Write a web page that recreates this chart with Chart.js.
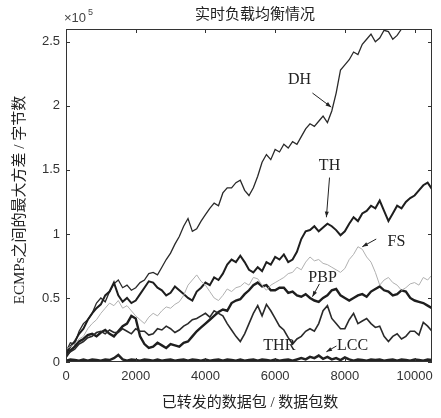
<!DOCTYPE html>
<html lang="zh-CN">
<head>
<meta charset="UTF-8">
<title>实时负载均衡情况</title>
<script src="https://cdn.jsdelivr.net/npm/chart.js"></script>
<style>
  html, body { margin: 0; padding: 0; background: #fff; }
  #wrap { width: 441px; height: 418px; }
</style>
</head>
<body>
<div id="wrap"><canvas id="grafico" width="441" height="418"></canvas></div>
<script>
// eixo x: pacotes encaminhados (passo de 125)
const xs = [0,125,250,375,500,625,750,875,1000,1125,1250,1375,1500,1625,1750,1875,2000,2125,2250,2375,2500,2625,2750,2875,3000,3125,3250,3375,3500,3625,3750,3875,4000,4125,4250,4375,4500,4625,4750,4875,5000,5125,5250,5375,5500,5625,5750,5875,6000,6125,6250,6375,6500,6625,6750,6875,7000,7125,7250,7375,7500,7625,7750,7875,8000,8125,8250,8375,8500,8625,8750,8875,9000,9125,9250,9375,9500,9625,9750,9875,10000,10125,10250,10375,10500];

// valores em unidades de 1e5 bytes
const dh  = [0.08,0.15,0.14,0.24,0.30,0.33,0.38,0.46,0.50,0.47,0.55,0.61,0.64,0.58,0.60,0.56,0.58,0.62,0.64,0.69,0.70,0.68,0.74,0.80,0.85,0.92,0.98,1.06,1.12,1.02,1.04,1.10,1.15,1.20,1.24,1.22,1.32,1.36,1.36,1.40,1.42,1.34,1.30,1.36,1.45,1.56,1.62,1.58,1.66,1.64,1.70,1.67,1.72,1.70,1.76,1.82,1.86,1.84,1.88,1.92,1.87,1.96,2.10,2.28,2.32,2.36,2.42,2.40,2.48,2.52,2.56,2.50,2.53,2.59,2.58,2.52,2.55,2.60,2.62,2.63,2.65,2.64,2.66,2.68,2.68];
const th  = [0.06,0.12,0.16,0.22,0.26,0.33,0.38,0.42,0.45,0.52,0.55,0.62,0.52,0.47,0.50,0.46,0.48,0.53,0.58,0.63,0.62,0.58,0.56,0.52,0.54,0.59,0.56,0.53,0.50,0.48,0.55,0.58,0.62,0.60,0.66,0.64,0.69,0.76,0.80,0.78,0.83,0.78,0.72,0.70,0.74,0.71,0.78,0.76,0.82,0.80,0.84,0.78,0.80,0.86,0.96,1.02,1.03,1.06,1.02,1.05,1.08,1.06,1.03,0.99,1.02,1.08,1.13,1.10,1.16,1.18,1.22,1.20,1.26,1.18,1.10,1.16,1.22,1.20,1.25,1.28,1.30,1.34,1.38,1.40,1.35];
const fs  = [0.10,0.12,0.14,0.18,0.20,0.26,0.30,0.33,0.38,0.42,0.46,0.44,0.48,0.42,0.44,0.40,0.36,0.33,0.30,0.35,0.38,0.36,0.40,0.43,0.42,0.45,0.47,0.52,0.60,0.64,0.68,0.63,0.60,0.55,0.50,0.48,0.52,0.57,0.55,0.58,0.59,0.62,0.60,0.66,0.65,0.60,0.56,0.60,0.62,0.64,0.66,0.69,0.70,0.74,0.72,0.78,0.82,0.79,0.80,0.77,0.76,0.74,0.72,0.70,0.73,0.80,0.84,0.90,0.88,0.82,0.78,0.70,0.60,0.64,0.66,0.62,0.60,0.56,0.58,0.61,0.62,0.60,0.66,0.64,0.68];
const pbp = [0.04,0.09,0.12,0.16,0.18,0.21,0.22,0.20,0.23,0.25,0.22,0.20,0.24,0.28,0.30,0.36,0.34,0.20,0.14,0.11,0.12,0.15,0.13,0.11,0.14,0.13,0.12,0.15,0.16,0.20,0.24,0.27,0.30,0.33,0.36,0.39,0.41,0.40,0.46,0.48,0.49,0.53,0.56,0.60,0.62,0.59,0.60,0.56,0.56,0.58,0.58,0.54,0.55,0.52,0.51,0.53,0.50,0.48,0.47,0.50,0.52,0.56,0.57,0.52,0.50,0.48,0.50,0.52,0.53,0.51,0.55,0.57,0.59,0.56,0.55,0.52,0.53,0.56,0.55,0.50,0.48,0.47,0.46,0.44,0.42];
const thr = [0.05,0.08,0.10,0.14,0.16,0.19,0.20,0.23,0.24,0.22,0.25,0.23,0.23,0.26,0.24,0.22,0.26,0.24,0.24,0.21,0.22,0.26,0.25,0.28,0.26,0.23,0.25,0.28,0.30,0.33,0.34,0.36,0.38,0.35,0.40,0.38,0.36,0.30,0.25,0.20,0.16,0.22,0.30,0.38,0.44,0.36,0.45,0.40,0.34,0.28,0.25,0.19,0.14,0.18,0.20,0.24,0.26,0.24,0.30,0.40,0.44,0.34,0.30,0.26,0.26,0.33,0.38,0.30,0.32,0.34,0.30,0.27,0.28,0.20,0.16,0.20,0.22,0.18,0.20,0.24,0.24,0.21,0.31,0.28,0.24];
const lcc = [0.01,0.02,0.015,0.01,0.02,0.01,0.02,0.015,0.01,0.02,0.015,0.03,0.055,0.02,0.01,0.02,0.015,0.01,0.02,0.015,0.01,0.02,0.01,0.015,0.02,0.01,0.015,0.02,0.01,0.02,0.015,0.01,0.02,0.01,0.015,0.02,0.01,0.02,0.015,0.01,0.02,0.01,0.015,0.02,0.01,0.02,0.015,0.01,0.02,0.01,0.015,0.02,0.01,0.02,0.03,0.02,0.04,0.03,0.05,0.025,0.04,0.02,0.03,0.015,0.035,0.02,0.01,0.02,0.015,0.01,0.02,0.015,0.02,0.01,0.015,0.02,0.01,0.02,0.015,0.01,0.02,0.015,0.01,0.02,0.015];

const xTicks = [0,2000,4000,6000,8000,10000];
const yTicks = [0,0.5,1,1.5,2,2.5];

// rotulos das curvas: texto, posicao do texto, seta (de -> para), em coordenadas de dados
const rotulos = [
  { txt: 'DH',  x: 6700, y: 2.20, seta: [7070, 2.10, 7610, 1.99] },
  { txt: 'TH',  x: 7560, y: 1.53, seta: [7560, 1.44, 7470, 1.13] },
  { txt: 'FS',  x: 9480, y: 0.94, seta: [8900, 0.96, 8500, 0.90] },
  { txt: 'PBP', x: 7360, y: 0.66, seta: [7270, 0.61, 7070, 0.51] },
  { txt: 'THR', x: 6120, y: 0.125, seta: null },
  { txt: 'LCC', x: 8220, y: 0.125, seta: [7760, 0.125, 7470, 0.08] }
];

function pontos(serie) {
  return xs.map((x, i) => ({ x: x, y: serie[i] }));
}

function linha(label, serie, cor, larg) {
  return { label: label, data: pontos(serie), borderColor: cor, borderWidth: larg, pointRadius: 0, tension: 0, fill: false };
}

const dados = {
  datasets: [
    linha('FS', fs, '#b0b0b0', 1),
    linha('LCC', lcc, '#222', 2.5),
    linha('THR', thr, '#2a2a2a', 1.6),
    linha('PBP', pbp, '#1e1e1e', 2.4),
    linha('TH', th, '#1e1e1e', 2),
    linha('DH', dh, '#2a2a2a', 1.3)
  ]
};

function seta(ctx, x1, y1, x2, y2) {
  ctx.beginPath();
  ctx.moveTo(x1, y1);
  ctx.lineTo(x2, y2);
  ctx.stroke();
  const a = Math.atan2(y2 - y1, x2 - x1);
  const L = 6;
  ctx.beginPath();
  ctx.moveTo(x2, y2);
  ctx.lineTo(x2 - L * Math.cos(a - 0.35), y2 - L * Math.sin(a - 0.35));
  ctx.lineTo(x2 - L * Math.cos(a + 0.35), y2 - L * Math.sin(a + 0.35));
  ctx.closePath();
  ctx.fill();
}

const extras = {
  id: 'extras',
  afterDraw(chart) {
    const ctx = chart.ctx;
    const sx = chart.scales.x, sy = chart.scales.y;
    const a = chart.chartArea;
    ctx.save();
    // caixa e ticks internos
    ctx.strokeStyle = '#333';
    ctx.lineWidth = 1;
    ctx.strokeRect(a.left + 0.5, a.top + 0.5, a.right - a.left - 1, a.bottom - a.top - 1);
    ctx.beginPath();
    xTicks.forEach(v => {
      const p = Math.round(sx.getPixelForValue(v)) + 0.5;
      ctx.moveTo(p, a.bottom); ctx.lineTo(p, a.bottom - 4);
      ctx.moveTo(p, a.top); ctx.lineTo(p, a.top + 4);
    });
    yTicks.forEach(v => {
      const p = Math.round(sy.getPixelForValue(v)) + 0.5;
      ctx.moveTo(a.left, p); ctx.lineTo(a.left + 4, p);
      ctx.moveTo(a.right, p); ctx.lineTo(a.right - 4, p);
    });
    ctx.stroke();

    // rotulos das curvas
    ctx.fillStyle = '#222';
    ctx.strokeStyle = '#222';
    ctx.lineWidth = 1;
    ctx.font = '16px "Liberation Serif", serif';
    ctx.textAlign = 'center';
    ctx.textBaseline = 'middle';
    rotulos.forEach(r => {
      ctx.fillText(r.txt, sx.getPixelForValue(r.x), sy.getPixelForValue(r.y));
      if (r.seta) {
        seta(ctx, sx.getPixelForValue(r.seta[0]), sy.getPixelForValue(r.seta[1]),
                  sx.getPixelForValue(r.seta[2]), sy.getPixelForValue(r.seta[3]));
      }
    });

    // titulo e eixos
    ctx.fillStyle = '#222';
    ctx.font = '15px "Liberation Serif", "Noto Sans CJK SC", serif';
    ctx.fillText('实时负载均衡情况', 255, 15);
    ctx.fillText('已转发的数据包 / 数据包数', 250, 403);
    ctx.save();
    ctx.translate(20, 200);
    ctx.rotate(-Math.PI / 2);
    ctx.fillText('ECMPs之间的最大方差 / 字节数', 0, 0);
    ctx.restore();

    // multiplicador
    ctx.fillStyle = '#444';
    ctx.textAlign = 'left';
    ctx.font = '13px "Liberation Sans", sans-serif';
    ctx.fillText('×10', 64, 18);
    ctx.font = '9px "Liberation Sans", sans-serif';
    ctx.fillText('5', 88, 13);
    ctx.restore();
  }
};

const config = {
  type: 'line',
  data: dados,
  options: {
    responsive: false,
    animation: false,
    layout: { padding: { top: 29, right: 9, left: 0, bottom: 0 } },
    plugins: { legend: { display: false }, tooltip: { enabled: false }, title: { display: false } },
    scales: {
      x: {
        type: 'linear', min: 0, max: 10500,
        grid: { display: false, drawTicks: false },
        border: { display: false },
        afterBuildTicks: s => { s.ticks = xTicks.map(v => ({ value: v })); },
        afterFit: s => { s.height = 56; },
        ticks: { padding: 7, color: '#333', font: { family: 'Liberation Sans', size: 13 }, maxRotation: 0, callback: v => String(v) }
      },
      y: {
        min: 0, max: 2.6,
        grid: { display: false, drawTicks: false },
        border: { display: false },
        afterBuildTicks: s => { s.ticks = yTicks.map(v => ({ value: v })); },
        afterFit: s => { s.width = 66; },
        ticks: { padding: 6, color: '#333', font: { family: 'Liberation Sans', size: 13 }, callback: v => String(v) }
      }
    }
  },
  plugins: [extras]
};

let myChart = new Chart(document.getElementById('grafico'), config);
</script>
</body>
</html>
